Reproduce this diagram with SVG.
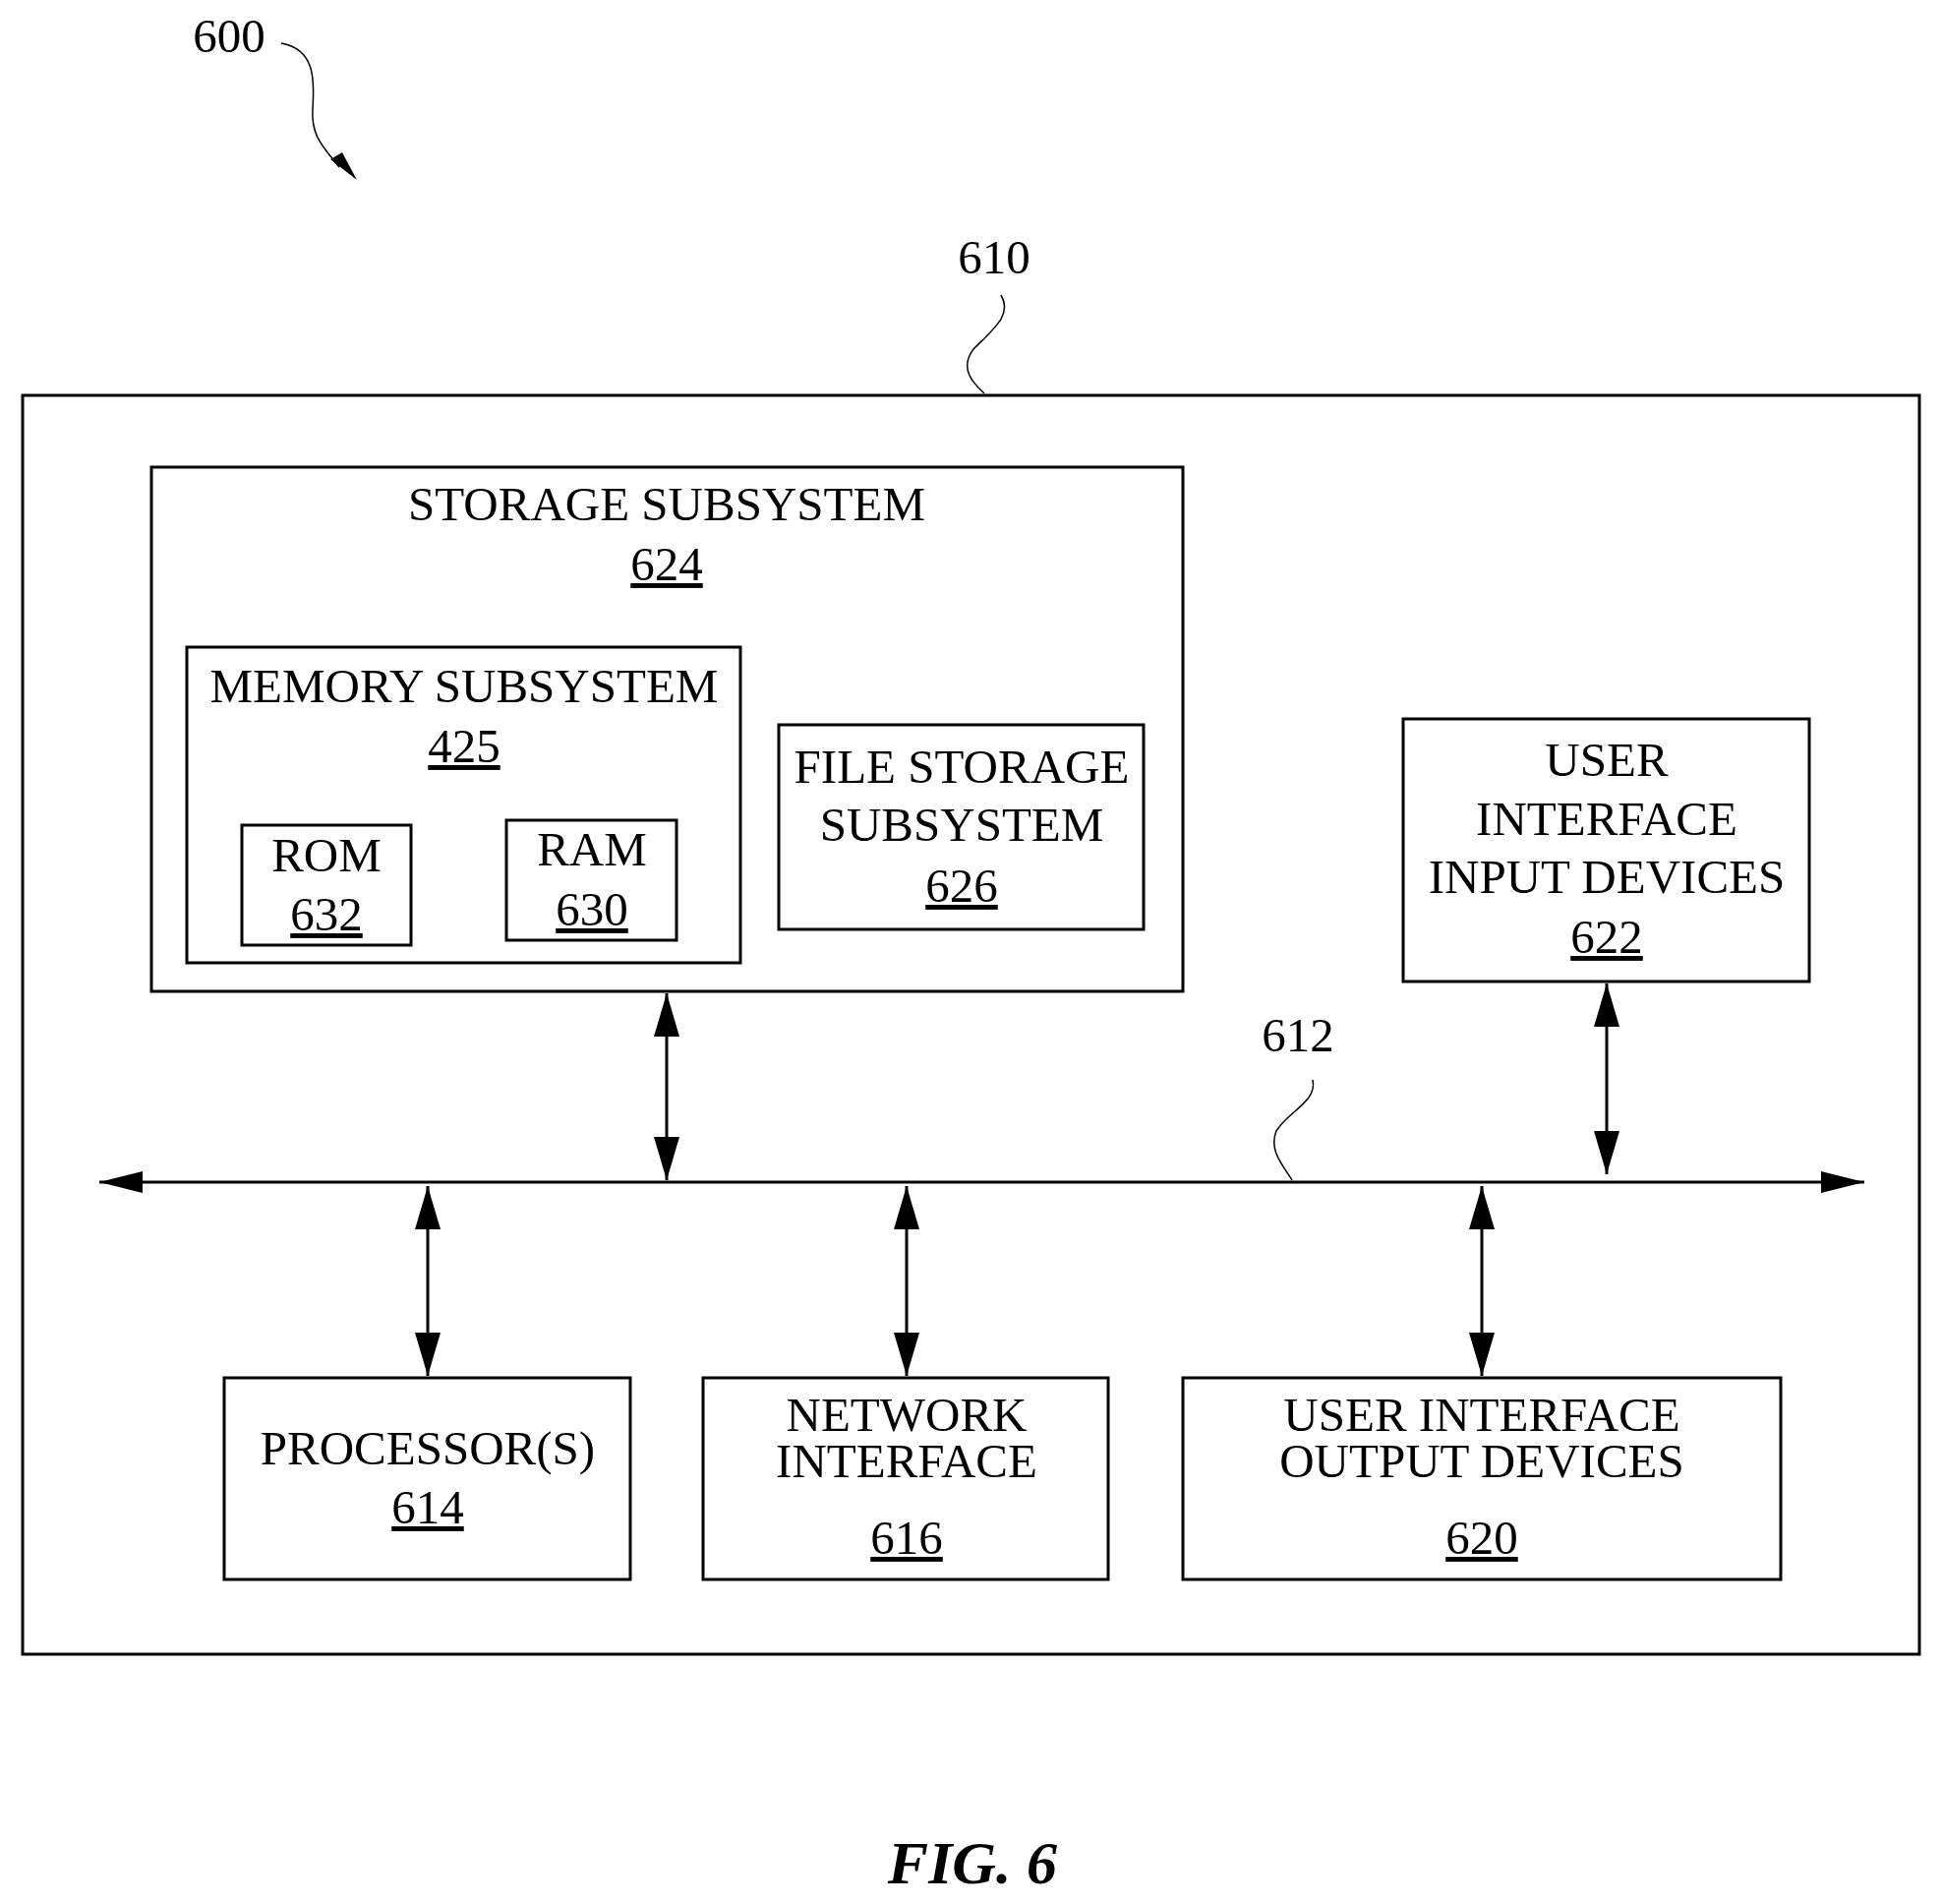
<svg xmlns="http://www.w3.org/2000/svg" width="1975" height="1936" viewBox="0 0 1975 1936">
<style>
text{font-family:"Liberation Serif","Times New Roman",serif;font-size:49px;text-anchor:middle;fill:#000}
.u{text-decoration:underline}
.b{fill:none;stroke:#000;stroke-width:3}
.c{fill:none;stroke:#000;stroke-width:3}
.s{fill:none;stroke:#000;stroke-width:1.5}
</style>
<defs>
<marker id="big" viewBox="0 0 10 10" refX="10" refY="5" markerWidth="44" markerHeight="22" markerUnits="userSpaceOnUse" orient="auto-start-reverse" preserveAspectRatio="none"><path d="M0,0 L10,5 L0,10 z"/></marker>
<marker id="v" viewBox="0 0 10 10" refX="10" refY="5" markerWidth="44" markerHeight="26" markerUnits="userSpaceOnUse" orient="auto-start-reverse" preserveAspectRatio="none"><path d="M0,0 L10,5 L0,10 z"/></marker>
</defs>
<rect width="1975" height="1936" fill="#fff"/>
<g id="labels">
<text x="233" y="53">600</text>
<path class="s" d="M286,44 C320,50 320,80 318,110 C316,140 330,150 345,170" />
<path d="M336,162 L363,183 L348,155 z"/>
<text x="1011" y="278">610</text>
<path class="s" d="M1018,300 C1030,320 1010,335 990,355 C975,375 990,390 1001,400"/>
<text x="1320" y="1069">612</text>
<path class="s" d="M1335,1098 C1340,1120 1310,1130 1298,1150 C1290,1170 1305,1185 1314,1200"/>
<text x="989" y="1915" style="font-weight:bold;font-style:italic;font-size:62px">FIG. 6</text>
</g>
<g id="n610"><rect class="b" x="23" y="402" width="1929" height="1280"/></g>
<g id="n624"><rect class="b" x="154" y="475" width="1049" height="533"/>
<text x="678" y="529">STORAGE SUBSYSTEM</text><text class="u" x="678" y="590">624</text></g>
<g id="n425"><rect class="b" x="190" y="658" width="563" height="321"/>
<text x="472" y="714">MEMORY SUBSYSTEM</text><text class="u" x="472" y="775">425</text></g>
<g id="n632"><rect class="b" x="246" y="839" width="172" height="122"/>
<text x="332" y="886">ROM</text><text class="u" x="332" y="946">632</text></g>
<g id="n630"><rect class="b" x="515" y="834" width="173" height="122"/>
<text x="602" y="880">RAM</text><text class="u" x="602" y="941">630</text></g>
<g id="n626"><rect class="b" x="792" y="737" width="371" height="208"/>
<text x="978" y="796">FILE STORAGE</text><text x="978" y="855">SUBSYSTEM</text><text class="u" x="978" y="917">626</text></g>
<g id="n622"><rect class="b" x="1427" y="731" width="413" height="267"/>
<text x="1634" y="789">USER</text><text x="1634" y="849">INTERFACE</text><text x="1634" y="908">INPUT DEVICES</text><text class="u" x="1634" y="969">622</text></g>
<g id="n614"><rect class="b" x="228" y="1401" width="413" height="205"/>
<text x="435" y="1489">PROCESSOR(S)</text><text class="u" x="435" y="1549">614</text></g>
<g id="n616"><rect class="b" x="715" y="1401" width="412" height="205"/>
<text x="922" y="1455">NETWORK</text><text x="922" y="1502">INTERFACE</text><text class="u" x="922" y="1580">616</text></g>
<g id="n620"><rect class="b" x="1203" y="1401" width="608" height="205"/>
<text x="1507" y="1455">USER INTERFACE</text><text x="1507" y="1502">OUTPUT DEVICES</text><text class="u" x="1507" y="1580">620</text></g>
<g id="connectors">
<line class="c" x1="101" y1="1202" x2="1896" y2="1202" marker-start="url(#big)" marker-end="url(#big)"/>
<line class="c" x1="678" y1="1010" x2="678" y2="1200" marker-start="url(#v)" marker-end="url(#v)"/>
<line class="c" x1="1634" y1="1000" x2="1634" y2="1194" marker-start="url(#v)" marker-end="url(#v)"/>
<line class="c" x1="435" y1="1206" x2="435" y2="1399" marker-start="url(#v)" marker-end="url(#v)"/>
<line class="c" x1="922" y1="1206" x2="922" y2="1399" marker-start="url(#v)" marker-end="url(#v)"/>
<line class="c" x1="1507" y1="1206" x2="1507" y2="1399" marker-start="url(#v)" marker-end="url(#v)"/>
</g>
</svg>
